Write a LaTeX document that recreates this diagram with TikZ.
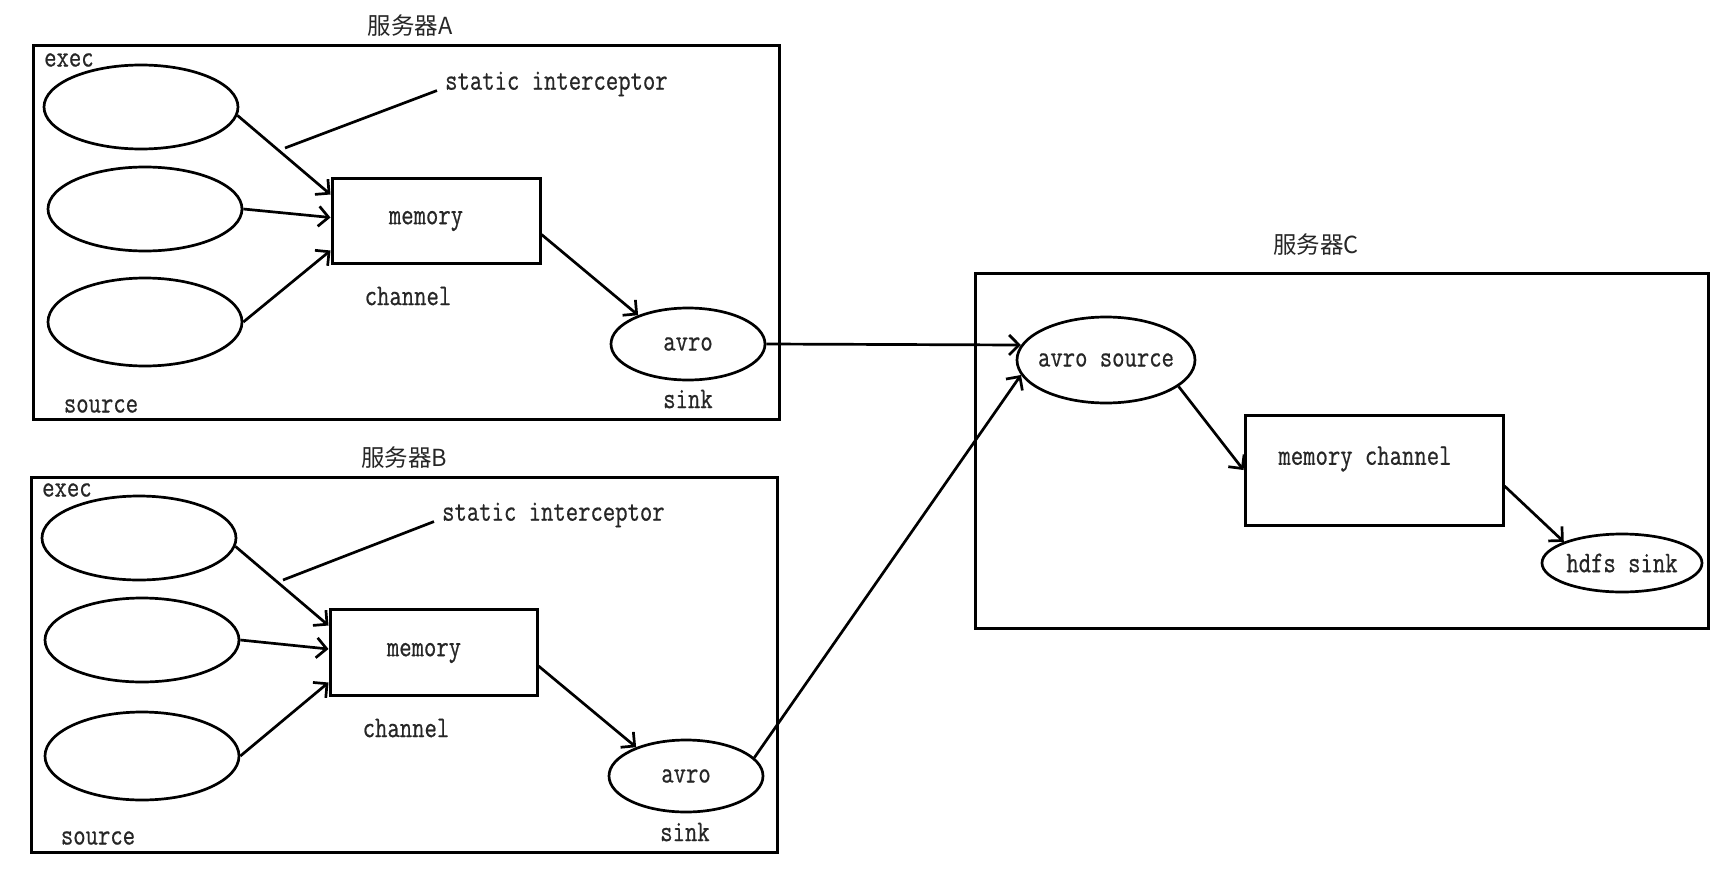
\documentclass[tikz,border=0pt]{standalone}
\usepackage{fontspec}
\setmonofont[FakeStretch=0.8,FakeBold=0.6]{Latin Modern Mono}
\newfontfamily\cjk{Noto Sans CJK SC}
\usetikzlibrary{shapes.geometric,arrows.meta}
\begin{document}
\begin{tikzpicture}[x=1pt,y=-1pt,
  box/.style={draw,line width=3pt,inner sep=0pt},
  ell/.style={draw,ellipse,line width=2.7pt,inner sep=0pt},
  txt/.style={font=\ttfamily\fontsize{30}{33}\selectfont,inner sep=0pt,text=black!85},
  ttl/.style={font=\cjk\fontsize{23.5}{27}\selectfont,inner sep=0pt,text=black!85},
  arr/.style={line width=2.7pt,-{Straight Barb[length=10pt,width=20pt]}},
  ln/.style={line width=2.7pt}]
\useasboundingbox (0,0) rectangle (1730,870);

% ---------- Server A ----------
\node[ttl] (tA) at (410,26) {服务器A};
\node[box,minimum width=746pt,minimum height=374pt] (boxA) at (406,232) {};
\node[txt,anchor=west] (execA) at (44,60) {exec};
\node[ell,minimum width=194pt,minimum height=84pt] (e1A) at (141,107) {};
\node[ell,minimum width=194pt,minimum height=84pt] (e2A) at (145,209) {};
\node[ell,minimum width=194pt,minimum height=88pt] (e3A) at (145,322) {};
\node[box,minimum width=208pt,minimum height=85pt] (memA) at (436,220.5) {};
\node[txt] (memtA) at (426,221) {memory};
\node[txt] (chA) at (408,296) {channel};
\node[ell,minimum width=154pt,minimum height=72pt,label={[txt]center:avro}] (avroA) at (688,344) {};
\node[txt] (sinkA) at (688,399) {sink};
\node[txt] (srcA) at (101,406) {source};
\node[txt,anchor=west] (siA) at (445,84) {static interceptor};
\coordinate (ciA) at (285,148);

\draw[arr] (e1A.-5) -- ([yshift=-18pt]memA.north west);
\draw[arr] (e2A.east) -- ([yshift=3pt]memA.west);
\draw[arr] (e3A.east) -- ([yshift=14pt]memA.south west);
\draw[arr] ([yshift=-14pt]memA.east) -- (avroA.150);
\draw[ln] ([xshift=-8pt,yshift=6pt]siA.south west) -- (ciA);

% ---------- Server B ----------
\node[ttl] (tB) at (404,458) {服务器B};
\node[box,minimum width=746pt,minimum height=375pt] (boxB) at (404,664.5) {};
\node[txt,anchor=west] (execB) at (42,490) {exec};
\node[ell,minimum width=194pt,minimum height=84pt] (e1B) at (139,538) {};
\node[ell,minimum width=194pt,minimum height=84pt] (e2B) at (142,640) {};
\node[ell,minimum width=194pt,minimum height=88pt] (e3B) at (142,756) {};
\node[box,minimum width=207pt,minimum height=86pt] (memB) at (433.5,652) {};
\node[txt] (memtB) at (424,653) {memory};
\node[txt] (chB) at (406,728) {channel};
\node[ell,minimum width=154pt,minimum height=72pt,label={[txt]center:avro}] (avroB) at (686,776) {};
\node[txt] (sinkB) at (685,832) {sink};
\node[txt] (srcB) at (98,838) {source};
\node[txt,anchor=west] (siB) at (442,515) {static interceptor};
\coordinate (ciB) at (283,580);

\draw[arr] (e1B.-5) -- ([yshift=-18pt]memB.north west);
\draw[arr] (e2B.east) -- ([yshift=3pt]memB.west);
\draw[arr] (e3B.east) -- ([yshift=14pt]memB.south west);
\draw[arr] ([yshift=-14pt]memB.east) -- (avroB.150);
\draw[ln] ([xshift=-8pt,yshift=6pt]siB.south west) -- (ciB);

% ---------- Server C ----------
\node[ttl] (tC) at (1316,245) {服务器C};
\node[box,minimum width=733pt,minimum height=355pt] (boxC) at (1341.5,450.5) {};
\node[ell,minimum width=178pt,minimum height=86pt,label={[txt]center:avro source}] (avroS) at (1106,360) {};
\node[box,minimum width=258pt,minimum height=110pt] (memC) at (1374,470) {};
\node[txt] (memtC) at (1365,459) {memory channel};
\node[ell,minimum width=160pt,minimum height=58pt,label={[txt]center:hdfs sink}] (hdfs) at (1622,563) {};

\draw[arr] (avroS.-20) -- (memC.west);
\draw[arr] ([yshift=-16pt]memC.east) -- (hdfs.160);

% ---------- between servers ----------
\draw[arr] (avroA.east) -- (avroS.170);
\draw[arr] (avroB.15) -- (avroS.190);
\end{tikzpicture}
\end{document}
